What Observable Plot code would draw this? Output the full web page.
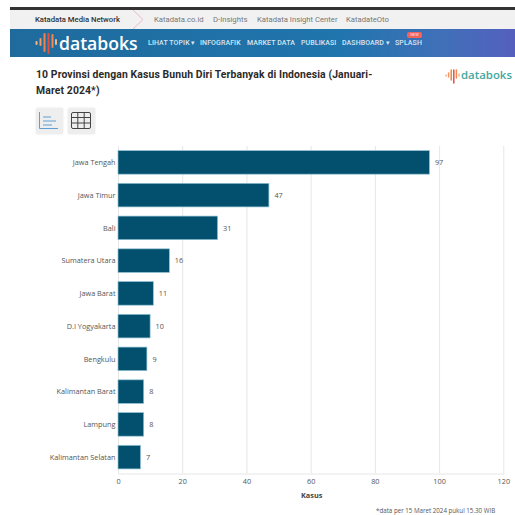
<!DOCTYPE html>
<html>
<head>
<meta charset="utf-8">
<script src="https://cdn.jsdelivr.net/npm/d3@7"></script>
<script src="https://cdn.jsdelivr.net/npm/@observablehq/plot@0.6"></script>
<style>
  html, body { margin: 0; padding: 0; background: #fff; }
  body { width: 515px; height: 515px; position: relative; overflow: hidden; font-family: Roboto, sans-serif; }
  .abs { position: absolute; white-space: nowrap; }
  #topline { left: 10px; top: 7px; width: 505px; height: 3px; background: #333; }
  #network { left: 10px; top: 10px; width: 505px; height: 19px; background: #f1f1f1; }
  #navbar { left: 10px; top: 29px; width: 505px; height: 28px; background: linear-gradient(90deg, #1f6b9d 0%, #2075ad 65%, #3f70b8 85%, #5560be 100%); }
  .net { top: 14px; font-size: 7.7px; line-height: 11px; color: #777; }
  .menu { top: 38px; font-size: 7px; line-height: 10px; font-weight: 500; color: #d6e6f2; letter-spacing: .1px; }
  .brand { font-family: "Open Sans", sans-serif; }
  #title { left: 36px; top: 67px; width: 350px; white-space: normal; font-size: 10.4px; line-height: 16.4px; font-weight: 700; color: #2b2b2b; letter-spacing: .12px; }
  .tool { top: 108px; width: 27px; height: 26px; background: #eeeeee; border-radius: 2px; box-shadow: 0 0 2px #ddd; }
  #chart { left: 0; top: 140px; }
  #axis-name { left: 301px; top: 490px; font: 700 7.3px "Open Sans", sans-serif; color: #444; }
  #footnote { left: 376px; top: 506px; font: 6.2px "Open Sans", sans-serif; color: #555; }
</style>
</head>
<body>
<div class="abs" id="topline"></div>
<div class="abs" id="network"></div>
<div class="abs" id="navbar"></div>

<div class="abs net" style="left:35px;color:#333;font-weight:500">Katadata Media Network</div>
<svg class="abs" style="left:130px;top:10px" width="16" height="19"><path d="M3 0 L13 9.5 L3 19" fill="none" stroke="#eab8c6" stroke-width="1"/></svg>
<div class="abs net" style="left:154px">Katadata.co.id</div>
<div class="abs net" style="left:213px">D-Insights</div>
<div class="abs net" style="left:257px">Katadata Insight Center</div>
<div class="abs net" style="left:346px">KatadateOto</div>

<svg class="abs" style="left:35px;top:31px" width="24" height="24">
  <g fill="none" stroke-linecap="round" stroke-width="2">
    <path d="M1.5 11 V13" stroke="#f6b48a"/>
    <path d="M5.5 8 V14" stroke="#f39a62"/>
    <path d="M9.5 3 V20" stroke="#f08150"/>
    <path d="M13.5 3 V22" stroke="#e2503f"/>
    <path d="M17.5 4 V16" stroke="#f08a50"/>
    <path d="M21 9 V13" stroke="#f6b48a"/>
  </g>
</svg>
<div class="abs brand" style="left:59px;top:30px;font-size:17.6px;line-height:26px;color:#fff;font-weight:600">databoks</div>
<div class="abs menu" style="left:148px">LIHAT TOPIK ▾</div>
<div class="abs menu" style="left:200px">INFOGRAFIK</div>
<div class="abs menu" style="left:247px">MARKET DATA</div>
<div class="abs menu" style="left:301px">PUBLIKASI</div>
<div class="abs menu" style="left:342px">DASHBOARD ▾</div>
<div class="abs menu" style="left:395px">SPLASH</div>
<div class="abs" style="left:407px;top:31.5px;width:15px;height:6px;border-radius:2px;background:#f0625a;color:#fde;font-size:4px;line-height:6px;text-align:center">NEW</div>

<div class="abs" id="title">10 Provinsi dengan Kasus Bunuh Diri Terbanyak di Indonesia (Januari-Maret 2024*)</div>

<svg class="abs" style="left:445px;top:68px" width="16" height="16">
  <g fill="none" stroke-linecap="round" stroke-width="1.5">
    <path d="M1 7 V8" stroke="#f6b48a"/>
    <path d="M3.6 5 V9" stroke="#f39a62"/>
    <path d="M6.2 2 V12" stroke="#f08150"/>
    <path d="M8.8 2 V15" stroke="#e2503f"/>
    <path d="M11.4 2 V10" stroke="#f08a50"/>
    <path d="M14 6 V8" stroke="#f6b48a"/>
  </g>
</svg>
<div class="abs brand" style="left:461px;top:67px;font-size:11.4px;line-height:16px;color:#3fa7a0;font-weight:600">databoks</div>

<div class="abs tool" style="left:36px"></div>
<svg class="abs" style="left:36px;top:108px" width="27" height="26">
  <path d="M3.5 4 V20.5 H22" fill="none" stroke="#5f9fd4" stroke-width="1"/>
  <path d="M7 9 H15 M7 13 H20 M7 17 H16" fill="none" stroke="#5f9fd4" stroke-width="1"/>
</svg>
<div class="abs tool" style="left:68px"></div>
<svg class="abs" style="left:68px;top:108px" width="27" height="26">
  <rect x="3.5" y="4.5" width="19" height="16" rx="1.5" fill="none" stroke="#444" stroke-width="1"/>
  <path d="M3.5 9.5 H22.5 M3.5 15 H22.5 M9.8 4.5 V20.5 M16.2 4.5 V20.5" fill="none" stroke="#444" stroke-width="1"/>
</svg>

<div class="abs" id="chart"></div>
<div class="abs" id="axis-name">Kasus</div>
<div class="abs" id="footnote">*data per 15 Maret 2024 pukul 15.30 WIB</div>

<script>
// Provinces and reported cases, January to March 2024
const provinces = ["Jawa Tengah", "Jawa Timur", "Bali", "Sumatera Utara", "Jawa Barat", "D.I Yogyakarta", "Bengkulu", "Kalimantan Barat", "Lampung", "Kalimantan Selatan"];
const cases = [97, 47, 31, 16, 11, 10, 9, 8, 8, 7];
const xTicks = [0, 20, 40, 60, 80, 100, 120];

const rows = provinces.map((province, i) => ({province, value: cases[i]}));

const plot = Plot.plot({
  width: 515,
  height: 350,
  marginLeft: 118,
  marginRight: 11.7,
  marginTop: 6,
  marginBottom: 16.5,
  style: {background: "transparent", fontFamily: "'Open Sans', sans-serif", fontSize: "7.3px", color: "#555"},
  x: {domain: [0, 120], ticks: xTicks, label: null, tickSize: 0, tickPadding: 5},
  y: {domain: provinces, label: null, paddingInner: 0.28, paddingOuter: 0.14, round: false},
  marks: [
    Plot.gridX(xTicks, {stroke: "#e6e6e6", strokeOpacity: 1, strokeWidth: 1}),
    Plot.axisY({tickSize: 0, tickPadding: 3, label: null, fill: "#555"}),
    Plot.axisX({ticks: xTicks, tickSize: 0, tickPadding: 5, label: null, fill: "#555"}),
    Plot.frame({anchor: "bottom", stroke: "#e6e6e6"}),
    Plot.barX(rows, {x: "value", y: "province", fill: "#02506e", stroke: "#8fc1d4", strokeWidth: 0.7}),
    Plot.text(rows, {x: "value", y: "province", text: d => String(d.value), dx: 5, textAnchor: "start", fill: "#555"})
  ]
});
document.getElementById("chart").appendChild(plot);
</script>
</body>
</html>
